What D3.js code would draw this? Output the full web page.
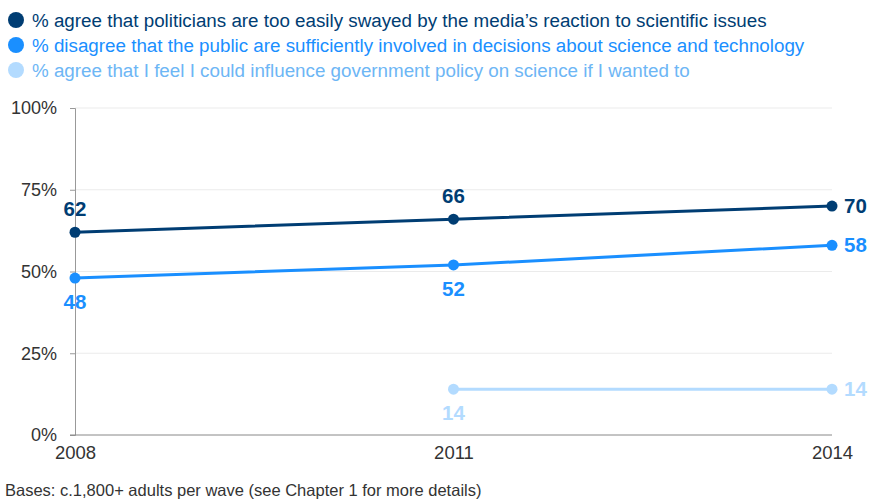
<!DOCTYPE html>
<html>
<head>
<meta charset="utf-8">
<script src="https://cdnjs.cloudflare.com/ajax/libs/d3/7.8.5/d3.min.js"></script>
<style>
  body { margin: 0; background: #fff; }
  svg { font-family: "Liberation Sans", Arial, sans-serif; }
</style>
</head>
<body>
<div id="chart"></div>
<script>
// data
const years = [2008, 2011, 2014];
const swayed = [62, 66, 70];
const disagree = [48, 52, 58];
const influence = [null, 14, 14];
const yTicks = [0, 25, 50, 75, 100];
const legendLabels = [
  "% agree that politicians are too easily swayed by the media\u2019s reaction to scientific issues",
  "% disagree that the public are sufficiently involved in decisions about science and technology",
  "% agree that I feel I could influence government policy on science if I wanted to"
];
const footnote = "Bases: c.1,800+ adults per wave (see Chapter 1 for more details)";

// chart size
const width = 869, height = 501,
    margin = {top: 108, right: 37, bottom: 66, left: 75};

const series = [
  {values: swayed, color: "#003d73", text: "#003d73", label: "#003d73", pos: ["above", "above", "right"]},
  {values: disagree, color: "#1a8fff", text: "#1a8fff", label: "#1a8fff", pos: ["below", "below", "right"]},
  {values: influence, color: "#b3dbff", text: "#6db6f5", label: "#b3dbff", pos: [null, "below", "right"]}
];

const svg = d3.select("#chart").append("svg")
    .attr("width", width)
    .attr("height", height);

const x = d3.scaleLinear()
    .domain([2008, 2014])
    .range([margin.left, width - margin.right]);

const y = d3.scaleLinear()
    .domain([0, 100])
    .range([height - margin.bottom, margin.top]);

// gridlines
svg.append("g")
    .selectAll("line")
    .data(yTicks.filter(d => d > 0))
    .enter().append("line")
    .attr("x1", x(2008))
    .attr("x2", x(2014))
    .attr("y1", d => y(d))
    .attr("y2", d => y(d))
    .attr("stroke", "#ebebeb")
    .attr("stroke-width", 1);

// y axis
const yAxis = svg.append("g")
    .attr("transform", "translate(" + margin.left + ",0)")
    .call(d3.axisLeft(y).tickValues(yTicks).tickFormat(d => d + "%").tickSize(5).tickPadding(13));
yAxis.select(".domain").attr("stroke", "#999");
yAxis.selectAll(".tick line").attr("stroke", "#999");
yAxis.selectAll("text").style("font-size", "18px").attr("fill", "#333");

// x axis
const xAxis = svg.append("g")
    .attr("transform", "translate(0," + y(0) + ")")
    .call(d3.axisBottom(x).tickValues(years).tickFormat(d3.format("d")).tickSize(0).tickPadding(11));
xAxis.select(".domain").attr("stroke", "#888").attr("d", "M" + (margin.left - 5) + ",0H" + (width - margin.right));
xAxis.selectAll("text").style("font-size", "18.5px").attr("fill", "#333");

// lines
const line = d3.line()
    .defined(d => d.v != null)
    .x(d => x(d.year))
    .y(d => y(d.v));

series.forEach(s => {
  const pts = years.map((yr, i) => ({year: yr, v: s.values[i], pos: s.pos[i]}));
  svg.append("path")
      .datum(pts)
      .attr("d", line)
      .attr("fill", "none")
      .attr("stroke", s.color)
      .attr("stroke-width", 3);

  const valid = pts.filter(d => d.v != null);
  svg.append("g").selectAll("circle")
      .data(valid)
      .enter().append("circle")
      .attr("cx", d => x(d.year))
      .attr("cy", d => y(d.v))
      .attr("r", 5.5)
      .attr("fill", s.color);

  svg.append("g").selectAll("text")
      .data(valid)
      .enter().append("text")
      .attr("x", d => d.pos == "right" ? x(d.year) + 12 : x(d.year))
      .attr("y", d => d.pos == "above" ? y(d.v) - 16 : d.pos == "below" ? y(d.v) + 31 : y(d.v) + 7)
      .attr("text-anchor", d => d.pos == "right" ? "start" : "middle")
      .style("font-size", "20.5px")
      .style("font-weight", "bold")
      .attr("fill", s.label)
      .text(d => d.v);
});

// legend
const legend = svg.append("g").attr("class", "legend");
legend.selectAll("circle")
    .data(series)
    .enter().append("circle")
    .attr("cx", 16)
    .attr("cy", (d, i) => 20 + i * 25)
    .attr("r", 8)
    .attr("fill", d => d.color);
legend.selectAll("text")
    .data(series)
    .enter().append("text")
    .attr("x", 32)
    .attr("y", (d, i) => 26.5 + i * 25)
    .style("font-size", "18.8px")
    .attr("fill", d => d.text)
    .text((d, i) => legendLabels[i]);

// footnote
svg.append("text")
    .attr("x", 5)
    .attr("y", 496)
    .style("font-size", "16.5px")
    .attr("fill", "#333")
    .text(footnote);
</script>
</body>
</html>
